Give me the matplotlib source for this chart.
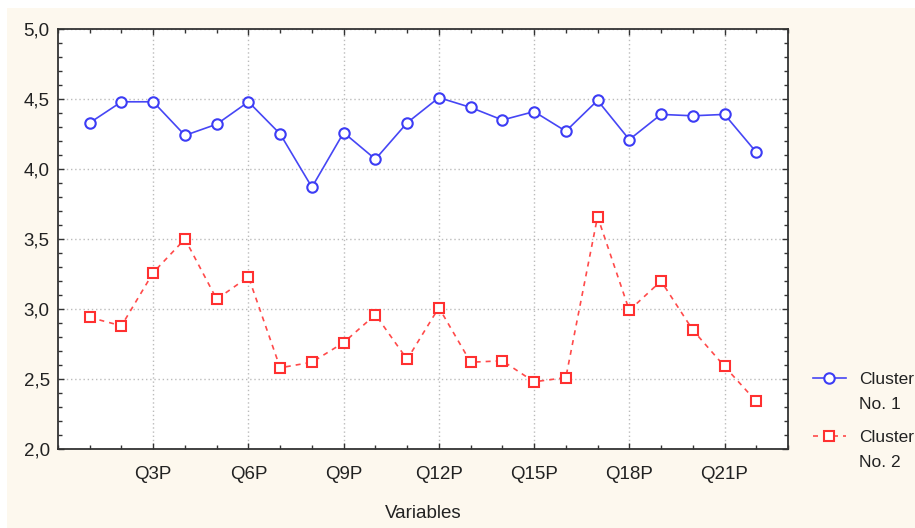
# Cluster means plot (Cluster No. 1 vs Cluster No. 2)

import matplotlib.pyplot as plt
from matplotlib.patches import Rectangle
from matplotlib.ticker import MultipleLocator, FuncFormatter

plt.rcParams['font.family'] = ['Liberation Sans', 'DejaVu Sans']

variables = ['Q%dP' % i for i in range(1, 23)]
cluster_1 = [4.33, 4.48, 4.48, 4.24, 4.32, 4.48, 4.25, 3.87, 4.26, 4.07, 4.33,
             4.51, 4.44, 4.35, 4.41, 4.27, 4.49, 4.21, 4.39, 4.38, 4.39, 4.12]
cluster_2 = [2.94, 2.88, 3.26, 3.50, 3.07, 3.23, 2.58, 2.62, 2.76, 2.96, 2.64,
             3.01, 2.62, 2.63, 2.48, 2.51, 3.66, 2.99, 3.20, 2.85, 2.59, 2.34]
legend_first = ['Cluster', 'Cluster']
legend_second = ['No. 1', 'No. 2']

cream = '#fdf8ee'
fig = plt.figure(figsize=(9.15, 5.28), dpi=100, facecolor='white')
fig.patches.append(Rectangle((7 / 915, 0), 1, 1 - 8 / 528, transform=fig.transFigure,
                             facecolor=cream, edgecolor='none', zorder=-1))

ax = fig.add_axes([58 / 915, 1 - 449 / 528, 730 / 915, 420 / 528])
ax.set_facecolor('white')

x = list(range(1, len(variables) + 1))
l1, = ax.plot(x, cluster_1, '-', color='#4646f5', lw=1.2, marker='o', ms=7.5,
              mfc='white', mec='#3c3cf5', mew=1.5)
l2, = ax.plot(x, cluster_2, '--', color='#ff4a4a', lw=1.2, dashes=(3, 3), marker='s',
              ms=7.5, mfc='white', mec='#ff3030', mew=1.5)

ax.set_xlim(0, 23)
ax.set_ylim(2.0, 5.0)
ax.set_xticks(x[2::3])
ax.set_xticklabels(variables[2::3])
ax.xaxis.set_minor_locator(MultipleLocator(1))
ax.yaxis.set_major_locator(MultipleLocator(0.5))
ax.yaxis.set_minor_locator(MultipleLocator(0.1))
ax.yaxis.set_major_formatter(FuncFormatter(lambda v, p: ('%.1f' % v).replace('.', ',')))
ax.tick_params(which='both', direction='in', top=True, right=True, labelsize=13.5,
               colors='#333333', labelcolor='#222222')
ax.tick_params(which='major', length=4, width=1)
ax.tick_params(which='minor', length=3, width=1)
ax.tick_params(axis='x', pad=12)
ax.tick_params(axis='y', pad=6)
ax.grid(True, which='major', color='#bbbbbb', linestyle=(0, (1, 2)), lw=1)
for s in ax.spines.values():
    s.set_color('#333333')
    s.set_linewidth(1.3)

ax.set_xlabel('Variables', fontsize=13.5, color='#222222', labelpad=16)

# legend: handle sits beside the first line, second line written below it
leg = fig.legend([l1, l2], legend_first, loc='upper left',
                 bbox_to_anchor=(813 / 915, 1 - 372 / 528), borderaxespad=0, borderpad=0,
                 frameon=False, fontsize=12.5, handlelength=1.9, handletextpad=0.75,
                 labelspacing=2.45, labelcolor='#222222')
for t, s in zip(leg.get_texts(), legend_second):
    fig.add_artist(plt.Annotation(s, xy=(0, 0), xycoords=t, xytext=(0, -25),
                                  textcoords='offset pixels', ha='left', va='bottom',
                                  fontsize=12.5, color='#222222', zorder=10))

plt.savefig('out.png', dpi=100, facecolor=fig.get_facecolor())
